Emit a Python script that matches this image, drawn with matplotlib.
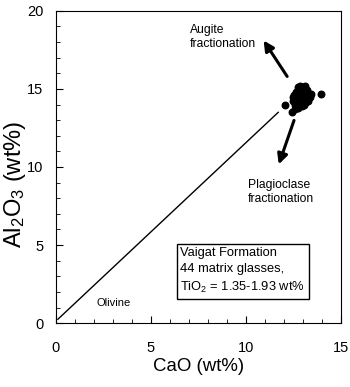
import numpy as np
import matplotlib.pyplot as plt
from matplotlib.ticker import MultipleLocator

plt.rcParams['font.family'] = ['Liberation Sans', 'DejaVu Sans']
plt.rcParams['mathtext.fontset'] = 'custom'
plt.rcParams['mathtext.rm'] = 'Liberation Sans'
plt.rcParams['mathtext.it'] = 'Liberation Sans'

# glass analyses
cao = [12.05, 12.4, 13.95, 12.5, 12.6, 12.7, 12.8, 12.9, 13.0, 13.1, 13.2, 13.3,
       12.6, 12.7, 12.8, 12.9, 13.0, 13.1, 13.2, 13.35, 12.55, 12.65, 12.75, 12.85,
       12.95, 13.05, 13.15, 13.25, 12.7, 12.8, 12.9, 13.0, 13.1, 13.2, 12.6, 12.75,
       12.95, 13.1, 13.3, 12.85, 13.0, 13.15, 12.5, 13.4]
al2o3 = [14.0, 13.55, 14.65, 14.2, 14.4, 14.6, 14.8, 15.0, 15.1, 15.2, 14.9, 14.7,
         14.0, 13.9, 14.1, 14.3, 14.5, 14.4, 14.6, 14.5, 14.6, 14.8, 15.1, 14.7,
         14.2, 14.0, 14.3, 14.2, 14.3, 14.5, 14.9, 14.8, 15.0, 14.7, 13.7, 13.8,
         13.9, 14.1, 14.4, 15.2, 14.6, 14.8, 14.5, 14.7]

olivine_x = [0.1, 11.7]
olivine_y = [0.25, 13.5]

fig = plt.figure(figsize=(3.5, 3.87), dpi=100)
ax = fig.add_axes([0.16, 0.165, 0.814, 0.807])

ax.plot(olivine_x, olivine_y, color='black', lw=1)
ax.scatter(cao, al2o3, s=22, color='black', zorder=3)

ax.annotate('', xy=(10.85, 18.25), xytext=(12.25, 15.65),
            arrowprops=dict(arrowstyle='-|>,head_length=0.6,head_width=0.3',
                            color='black', lw=2.2))
ax.annotate('', xy=(11.68, 10.0), xytext=(12.58, 13.15),
            arrowprops=dict(arrowstyle='-|>,head_length=0.6,head_width=0.3',
                            color='black', lw=2.2))

ax.text(7.05, 18.3, 'Augite\nfractionation', fontsize=8.7, va='center', ha='left')
ax.text(10.1, 8.4, 'Plagioclase\nfractionation', fontsize=8.7, va='center', ha='left')
ax.text(2.15, 1.3, 'Olivine', fontsize=8, va='center', ha='left')
ax.text(6.55, 3.35, 'Vaigat Formation\n44 matrix glasses,\nTiO$_2$ = 1.35-1.93 wt%',
        fontsize=9.3, va='center', ha='left', linespacing=1.45,
        bbox=dict(boxstyle='square,pad=0.3', fc='white', ec='black', lw=1))

ax.set_xlim(0, 15)
ax.set_ylim(0, 20)
ax.xaxis.set_major_locator(MultipleLocator(5))
ax.xaxis.set_minor_locator(MultipleLocator(1))
ax.yaxis.set_major_locator(MultipleLocator(5))
ax.yaxis.set_minor_locator(MultipleLocator(1))
ax.tick_params(which='both', direction='in', labelsize=10.5)
ax.tick_params(axis='x', which='both', pad=13)
ax.tick_params(axis='y', which='both', pad=9)
ax.tick_params(which='major', length=5)
ax.tick_params(which='minor', length=3)

ax.set_xlabel('CaO (wt%)', fontsize=13.4, labelpad=2)
ax.set_ylabel(r'Al$_2$O$_3$ (wt%)', fontsize=17)
ax.yaxis.set_label_coords(-0.10, 0.445)

plt.savefig('out.png', dpi=100)
